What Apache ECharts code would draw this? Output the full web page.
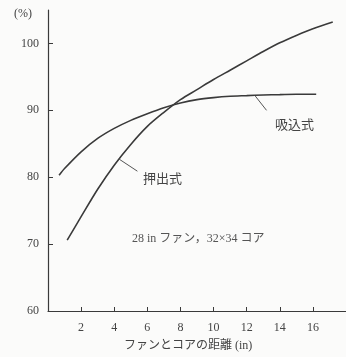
<!DOCTYPE html>
<html>
<head>
<meta charset="utf-8">
<script src="https://cdn.jsdelivr.net/npm/echarts@6/dist/echarts.min.js"></script>
<style>
  html, body { margin: 0; padding: 0; background: #fbfbfa; }
  #chart { width: 346px; height: 357px; }
</style>
</head>
<body>
<div id="chart"></div>
<script>
// Efficiency vs. fan-to-core distance, 28 in fan with 32x34 core
const suctionX = [0.67, 1, 2, 3, 4, 5, 6, 7, 8, 9, 10, 11, 12, 13, 14, 15, 16.2];
const suctionY = [80.3, 81.3, 83.8, 85.8, 87.3, 88.5, 89.5, 90.4, 91.1, 91.6, 91.9, 92.1, 92.2, 92.3, 92.35, 92.4, 92.4];
const pushX = [1.16, 2, 3, 4, 5, 6, 7, 8, 9, 10, 11, 12, 13, 14, 15, 16, 17.2];
const pushY = [70.6, 74.1, 78.2, 81.8, 84.9, 87.6, 89.7, 91.6, 93.1, 94.6, 96.0, 97.4, 98.8, 100.1, 101.2, 102.2, 103.2];
const xTicks = [2, 4, 6, 8, 10, 12, 14, 16];
const yTicks = [60, 70, 80, 90, 100];

const ink = '#3a3a3a';
const serif = '"Liberation Serif", "DejaVu Serif", "Noto Sans CJK JP", serif';

const pairs = (xs, ys) => xs.map((x, i) => [x, ys[i]]);

const chart = echarts.init(document.getElementById('chart'));
chart.setOption({
  backgroundColor: '#fbfbfa',
  animation: false,
  grid: { left: 48, top: 10, width: 301.5, height: 301 },
  xAxis: {
    type: 'value', min: 0, max: 18,
    axisLine: { show: true, lineStyle: { color: ink, width: 1.2 } },
    axisTick: { show: true, inside: true, length: 4, customValues: xTicks, lineStyle: { color: ink } },
    axisLabel: { customValues: xTicks, color: '#444', fontFamily: serif, fontSize: 12, margin: 11 },
    splitLine: { show: false }
  },
  yAxis: {
    type: 'value', min: 60, max: 105,
    axisLine: { show: true, lineStyle: { color: ink, width: 1.2 } },
    axisTick: { show: true, inside: true, length: 5, customValues: [70, 80, 90, 100], lineStyle: { color: ink } },
    axisLabel: { customValues: yTicks, color: '#444', fontFamily: serif, fontSize: 12, margin: 9 },
    splitLine: { show: false }
  },
  series: [
    {
      name: '吸込式', type: 'line', smooth: 0.3, symbol: 'none',
      data: pairs(suctionX, suctionY),
      lineStyle: { color: ink, width: 1.6 },
      markLine: {
        symbol: 'none', silent: true, label: { show: false },
        lineStyle: { color: '#555', width: 1, type: 'solid' },
        data: [[{ coord: [12.5, 92.2] }, { coord: [13.2, 90.0] }]]
      }
    },
    {
      name: '押出式', type: 'line', smooth: 0.3, symbol: 'none',
      data: pairs(pushX, pushY),
      lineStyle: { color: ink, width: 1.6 },
      markLine: {
        symbol: 'none', silent: true, label: { show: false },
        lineStyle: { color: '#555', width: 1, type: 'solid' },
        data: [[{ coord: [4.3, 82.7] }, { coord: [5.4, 80.9] }]]
      }
    }
  ],
  graphic: [
    { type: 'text', left: 14, top: 8, style: { text: '(%)', fill: '#444', font: '12px ' + serif } },
    { type: 'text', left: 275, top: 119, style: { text: '吸込式', fill: '#444', font: '13px ' + serif } },
    { type: 'text', left: 143, top: 173, style: { text: '押出式', fill: '#444', font: '13px ' + serif } },
    { type: 'text', left: 132, top: 233, style: { text: '28 in ファン，32×34 コア', fill: '#555', font: '12px ' + serif } },
    { type: 'text', left: 124, top: 340, style: { text: 'ファンとコアの距離 (in)', fill: '#444', font: '12px ' + serif } }
  ]
});
</script>
</body>
</html>
